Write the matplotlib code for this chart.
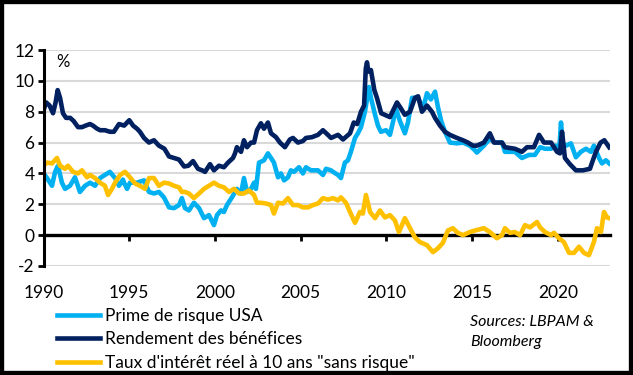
import matplotlib
matplotlib.use("Agg")
import matplotlib.pyplot as plt
from matplotlib.patches import Rectangle
import numpy as np

plt.rcParams['font.family'] = ['Lato', 'DejaVu Sans']
plt.rcParams['axes.unicode_minus'] = False

# ---------------- data ----------------
erp_years = [1990.00, 1990.20, 1990.49, 1990.67, 1990.84, 1991.07, 1991.25, 1991.54, 1991.83, 1992.12,
             1992.42, 1992.71, 1993.00, 1993.29, 1993.58, 1993.87, 1994.17, 1994.40, 1994.63, 1994.69,
             1994.87, 1995.04, 1995.45, 1995.86, 1996.15, 1996.44, 1996.73, 1997.02, 1997.32, 1997.61,
             1997.90, 1998.07, 1998.25, 1998.48, 1998.77, 1999.07, 1999.36, 1999.65, 1999.94, 2000.12,
             2000.35, 2000.52, 2000.70, 2000.99, 2001.28, 2001.52, 2001.69, 2001.87, 2002.10, 2002.28,
             2002.39, 2002.57, 2002.86, 2003.09, 2003.27, 2003.44, 2003.68, 2003.85, 2004.03, 2004.26,
             2004.43, 2004.61, 2004.90, 2005.13, 2005.31, 2005.60, 2006.01, 2006.30, 2006.48, 2006.77,
             2006.89, 2007.18, 2007.35, 2007.58, 2007.76, 2007.93, 2008.17, 2008.34, 2008.52, 2008.75,
             2008.99, 2009.10, 2009.34, 2009.51, 2009.68, 2009.98, 2010.21, 2010.38, 2010.56, 2010.79,
             2011.08, 2011.26, 2011.50, 2011.85, 2012.14, 2012.37, 2012.60, 2012.84, 2013.01, 2013.20,
             2013.42, 2013.71, 2014.12, 2014.47, 2014.87, 2015.17, 2015.28, 2015.69, 2016.04, 2016.34,
             2016.75, 2016.92, 2017.50, 2017.91, 2018.32, 2018.67, 2018.97, 2019.26, 2019.61, 2019.90,
             2020.10, 2020.19, 2020.30, 2020.48, 2020.77, 2021.06, 2021.35, 2021.65, 2021.94, 2022.11,
             2022.41, 2022.58, 2022.81, 2023.00]
erp_vals = [4.0, 3.7, 3.2, 4.1, 4.5, 3.4, 3.0, 3.2, 3.75, 2.8,
            3.2, 3.4, 3.2, 3.7, 3.9, 4.1, 3.7, 3.2, 3.6, 3.4,
            3.0, 3.4, 3.4, 3.55, 2.8, 2.7, 2.8, 2.45, 1.8, 1.75,
            1.95, 2.4, 1.75, 1.6, 2.1, 1.75, 1.1, 1.3, 0.65, 1.3,
            1.6, 1.5, 1.95, 2.45, 3.0, 2.7, 3.7, 2.8, 3.0, 3.4,
            3.0, 4.7, 4.85, 5.3, 5.0, 4.7, 3.75, 4.0, 3.55, 3.75,
            4.2, 4.1, 4.4, 4.0, 4.4, 4.2, 4.2, 3.9, 4.3, 4.2,
            4.1, 3.9, 3.7, 4.7, 4.85, 5.4, 6.3, 6.6, 7.0, 8.0,
            9.6, 8.9, 7.8, 7.1, 6.7, 6.8, 6.5, 7.3, 8.2, 7.4,
            6.6, 7.3, 8.9, 8.9, 8.2, 9.2, 8.8, 9.3, 8.3, 7.4,
            6.7, 6.0, 5.95, 6.0, 5.8, 5.5, 5.35, 5.8, 6.25, 6.0,
            6.0, 5.4, 5.4, 5.0, 5.2, 5.2, 5.7, 5.6, 5.6, 5.8,
            5.7, 7.3, 5.9, 5.8, 5.95, 5.05, 5.4, 5.6, 5.4, 5.8,
            5.0, 4.65, 4.85, 4.65]

ey_years = [1990.00, 1990.15, 1990.35, 1990.55, 1990.70, 1990.82, 1990.96, 1991.13, 1991.31, 1991.55,
            1991.75, 1992.01, 1992.24, 1992.45, 1992.71, 1992.88, 1993.12, 1993.30, 1993.58, 1993.87,
            1994.10, 1994.40, 1994.70, 1995.00, 1995.22, 1995.45, 1995.62, 1995.86, 1996.15, 1996.44,
            1996.73, 1997.05, 1997.32, 1997.61, 1997.90, 1998.20, 1998.45, 1998.72, 1999.01, 1999.25,
            1999.42, 1999.71, 1999.94, 2000.23, 2000.52, 2000.76, 2001.05, 2001.17, 2001.28, 2001.52,
            2001.69, 2001.87, 2002.10, 2002.28, 2002.45, 2002.68, 2002.86, 2003.09, 2003.27, 2003.56,
            2003.79, 2004.08, 2004.37, 2004.55, 2004.84, 2005.13, 2005.31, 2005.66, 2006.01, 2006.30,
            2006.59, 2006.77, 2007.18, 2007.47, 2007.88, 2008.10, 2008.30, 2008.52, 2008.70, 2008.80,
            2008.87, 2008.95, 2009.10, 2009.30, 2009.45, 2009.70, 2010.21, 2010.40, 2010.62, 2010.80,
            2011.08, 2011.38, 2011.67, 2011.85, 2012.08, 2012.37, 2012.66, 2012.84, 2013.13, 2013.42,
            2013.71, 2014.12, 2014.47, 2014.76, 2015.05, 2015.28, 2015.69, 2016.04, 2016.28, 2016.75,
            2016.92, 2017.50, 2017.91, 2018.21, 2018.61, 2018.91, 2019.20, 2019.61, 2019.96, 2020.13,
            2020.25, 2020.42, 2020.71, 2021.06, 2021.47, 2021.88, 2022.05, 2022.23, 2022.50, 2022.72,
            2023.00]
ey_vals = [8.1, 8.6, 8.4, 7.9, 8.6, 9.4, 8.9, 7.9, 7.6, 7.6,
           7.4, 7.0, 7.0, 7.1, 7.2, 7.1, 6.9, 6.8, 6.8, 6.7,
           6.7, 7.2, 7.1, 7.45, 7.1, 6.9, 6.7, 6.3, 6.0, 6.15,
           5.8, 5.6, 5.1, 5.0, 4.9, 4.45, 4.5, 4.8, 4.3, 4.2,
           4.1, 4.6, 4.2, 4.5, 4.4, 4.7, 5.0, 5.3, 5.7, 5.4,
           6.15, 5.7, 6.0, 6.0, 6.8, 7.25, 6.9, 7.3, 6.6, 6.35,
           6.0, 5.7, 6.2, 6.3, 6.0, 6.1, 6.3, 6.35, 6.5, 6.8,
           6.5, 6.3, 6.5, 6.2, 6.6, 7.3, 7.2, 8.0, 8.4, 10.8,
           11.2, 10.6, 10.7, 9.4, 8.9, 7.9, 7.65, 8.1, 8.6, 8.3,
           7.8, 8.0, 8.9, 9.0, 8.0, 8.4, 8.0, 7.6, 7.1, 6.7,
           6.5, 6.3, 6.15, 6.0, 5.8, 5.8, 6.0, 6.6, 6.0, 6.0,
           5.7, 5.6, 5.4, 5.7, 5.7, 6.5, 6.0, 6.0, 5.4, 5.3,
           6.7, 5.0, 4.6, 4.2, 4.2, 4.3, 4.85, 5.4, 6.0, 6.15,
           5.7]

rr_years = [1990.00, 1990.20, 1990.49, 1990.78, 1990.96, 1991.25, 1991.42, 1991.72, 1992.01, 1992.24,
            1992.53, 1992.71, 1993.00, 1993.29, 1993.58, 1993.76, 1993.99, 1994.17, 1994.46, 1994.75,
            1995.04, 1995.33, 1995.62, 1995.92, 1996.15, 1996.44, 1996.73, 1997.02, 1997.32, 1997.61,
            1997.90, 1998.07, 1998.25, 1998.48, 1998.77, 1999.07, 1999.36, 1999.65, 1999.94, 2000.23,
            2000.52, 2000.82, 2001.11, 2001.40, 2001.69, 2001.98, 2002.28, 2002.45, 2002.68, 2002.98,
            2003.27, 2003.44, 2003.68, 2003.97, 2004.26, 2004.55, 2004.84, 2005.13, 2005.43, 2005.72,
            2006.01, 2006.30, 2006.59, 2006.89, 2007.18, 2007.35, 2007.64, 2007.88, 2008.17, 2008.46,
            2008.63, 2008.81, 2009.05, 2009.34, 2009.63, 2009.92, 2010.21, 2010.50, 2010.73, 2010.91,
            2011.08, 2011.38, 2011.67, 2011.96, 2012.37, 2012.72, 2013.01, 2013.30, 2013.59, 2013.88,
            2014.17, 2014.47, 2014.87, 2015.17, 2015.69, 2016.04, 2016.45, 2016.75, 2016.92, 2017.21,
            2017.50, 2017.80, 2018.09, 2018.38, 2018.79, 2018.97, 2019.26, 2019.61, 2019.78, 2020.07,
            2020.36, 2020.66, 2020.95, 2021.24, 2021.53, 2021.82, 2022.11, 2022.29, 2022.52, 2022.70,
            2022.87, 2023.00]
rr_vals = [4.5, 4.7, 4.65, 5.0, 4.5, 4.3, 4.5, 4.1, 4.0, 4.2,
           3.75, 3.9, 3.7, 3.4, 3.2, 2.6, 3.0, 3.4, 3.9, 4.1,
           3.75, 3.35, 3.2, 3.0, 3.7, 3.7, 3.2, 3.4, 3.35, 3.2,
           3.1, 2.8, 2.8, 2.7, 2.4, 2.7, 3.0, 3.2, 3.4, 3.2,
           3.1, 2.8, 3.0, 2.7, 2.7, 2.9, 2.6, 2.1, 2.1, 2.05,
           1.95, 1.4, 2.1, 2.05, 2.4, 1.95, 1.95, 1.8, 1.8, 1.95,
           2.05, 2.4, 2.3, 2.4, 2.25, 2.45, 2.1, 1.5, 0.8, 1.5,
           1.4, 2.6, 1.5, 1.1, 1.6, 1.15, 1.3, 0.95, 0.2, 0.65,
           1.1, 0.45, -0.15, -0.45, -0.65, -1.1, -0.85, -0.5, 0.3, 0.45,
           0.15, 0.0, 0.2, 0.3, 0.45, 0.2, -0.2, 0.0, 0.45, 0.15,
           0.2, 0.0, 0.65, 0.5, 0.85, 0.5, 0.2, 0.0, 0.15, -0.2,
           -0.45, -1.15, -1.15, -0.75, -1.15, -1.3, -0.45, 0.45, 0.2, 1.5,
           1.15, 1.1]

series_labels = ["Prime de risque USA", "Rendement des bénéfices",
                 "Taux d'intérêt réel à 10 ans \"sans risque\""]
year_ticks = [1990, 1995, 2000, 2005, 2010, 2015, 2020]
y_ticks = [-2, 0, 2, 4, 6, 8, 10, 12]

# ---------------- figure ----------------
W, H = 633, 375
fig = plt.figure(figsize=(W / 100, H / 100), dpi=100)
fig.patch.set_facecolor('white')

x0, x1, ytop, ybot = 43.6, 610, 50, 266
ax = fig.add_axes([x0 / W, 1 - ybot / H, (x1 - x0) / W, (ybot - ytop) / H])

c_erp, c_ey, c_rr = '#00B0F0', '#002060', '#FFC000'
lw = 3.3
l1, = ax.plot(erp_years, erp_vals, color=c_erp, lw=lw, solid_joinstyle='round', label=series_labels[0], zorder=3)
l2, = ax.plot(ey_years, ey_vals, color=c_ey, lw=lw, solid_joinstyle='round', label=series_labels[1], zorder=4)
l3, = ax.plot(rr_years, rr_vals, color=c_rr, lw=lw, solid_joinstyle='round', label=series_labels[2], zorder=5)

ax.set_xlim(1990, 2023.05)
ax.set_ylim(-2, 12)
ax.set_yticks(y_ticks)
ax.set_yticklabels([str(v) for v in y_ticks])
for v in y_ticks:
    if v != 0:
        ax.axhline(v, color='#D9D9D9', lw=1.5, zorder=1)

for s in ['top', 'right']:
    ax.spines[s].set_visible(False)
ax.spines['left'].set_linewidth(2.2)
ax.spines['left'].set_zorder(6)
ax.spines['bottom'].set_position(('data', 0))
ax.spines['bottom'].set_linewidth(2.4)
ax.spines['bottom'].set_zorder(2)

ax.set_xticks(year_ticks[1:])
ax.tick_params(axis='x', direction='out', length=4, width=2, labelbottom=False)
ax.tick_params(axis='y', direction='out', length=4, width=2, pad=2.5, labelsize=12.5)

sec = ax.secondary_xaxis('bottom')
sec.set_xticks(year_ticks)
sec.set_xticklabels([str(y) for y in year_ticks])
sec.tick_params(length=0, pad=14, labelsize=12.5)
sec.spines['bottom'].set_visible(False)

ax.text(63 / W, 1 - 62 / H, '%', transform=fig.transFigure, fontsize=12, ha='center', va='center')

fig.legend(handles=[l1, l2, l3], loc='upper left', bbox_to_anchor=(57 / W, 1 - 308 / H),
           frameon=False, fontsize=12.5, handlelength=2.45, handletextpad=0.3,
           labelspacing=0.42, borderaxespad=0, borderpad=0)

fig.text(470 / W, 1 - 322 / H, 'Sources: LBPAM &', fontsize=11.5, style='italic', ha='left', va='center')
fig.text(470 / W, 1 - 342 / H, 'Bloomberg', fontsize=11.5, style='italic', ha='left', va='center')

fig.patches.append(Rectangle((0, 0), 1, 1, transform=fig.transFigure, fill=False,
                             edgecolor='black', lw=6, zorder=10))

fig.savefig('out.png', dpi=100)
